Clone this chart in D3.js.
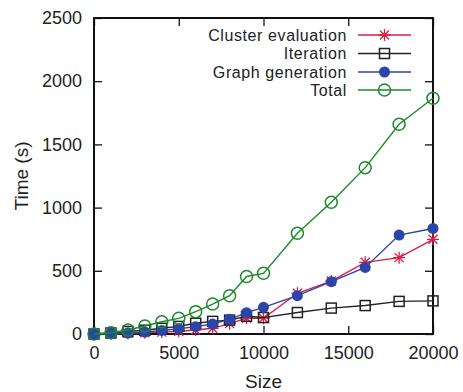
<!DOCTYPE html>
<html>
<head>
<meta charset="utf-8">
<script src="https://cdn.jsdelivr.net/npm/d3@7/dist/d3.min.js"></script>
<style>
  html, body { margin: 0; padding: 0; background: #fff; }
  svg { display: block; font-family: "Liberation Sans", Arial, Helvetica, sans-serif; }
</style>
</head>
<body>
<svg id="chart" width="463" height="392"></svg>
<script>
// Problem sizes and timings (seconds)
const sizes = [0, 1000, 2000, 3000, 4000, 5000, 6000, 7000, 8000, 9000, 10000, 12000, 14000, 16000, 18000, 20000];
const clusterEvaluation = [0, 2, 5, 10, 15, 22, 32, 45, 82, 125, 125, 322, 419, 567, 604, 749];
const iteration = [0, 8, 20, 30, 45, 60, 85, 100, 110, 140, 130, 170, 205, 225, 258, 262];
const graphGeneration = [0, 3, 8, 15, 28, 42, 58, 79, 116, 169, 211, 303, 414, 527, 783, 835];
const total = [0, 10, 32, 63, 97, 124, 177, 237, 303, 455, 480, 797, 1042, 1316, 1659, 1865];

const xTicks = [0, 5000, 10000, 15000, 20000];
const yTicks = [0, 500, 1000, 1500, 2000, 2500];

const seriesNames = ["Cluster evaluation", "Iteration", "Graph generation", "Total"];
const seriesValues = [clusterEvaluation, iteration, graphGeneration, total];
const seriesColors = ["#dc1e46", "#222222", "#2b45a8", "#1b8a2b"];
const seriesMarkers = ["star", "square", "dot", "circle"];

const svg = d3.select("#chart");
const plotLeft = 94, plotRight = 433, plotTop = 18, plotBottom = 334;

const x = d3.scaleLinear().domain([0, 20000]).range([plotLeft, plotRight]);
const y = d3.scaleLinear().domain([0, 2500]).range([plotBottom, plotTop]);

const tickLen = 8;
const fontSize = 18;

// Axes with inward ticks on all four sides
const axisG = svg.append("g");
axisG.append("g").attr("transform", `translate(0,${plotBottom})`)
  .call(d3.axisBottom(x).tickValues(xTicks).tickSizeInner(-tickLen).tickSizeOuter(0).tickPadding(12).tickFormat(d3.format("d")));
axisG.append("g").attr("transform", `translate(0,${plotTop})`)
  .call(d3.axisTop(x).tickValues(xTicks).tickSizeInner(-tickLen).tickSizeOuter(0).tickFormat(""));
axisG.append("g").attr("transform", `translate(${plotLeft},0)`)
  .call(d3.axisLeft(y).tickValues(yTicks).tickSizeInner(-tickLen).tickSizeOuter(0).tickPadding(12).tickFormat(d3.format("d")));
axisG.append("g").attr("transform", `translate(${plotRight},0)`)
  .call(d3.axisRight(y).tickValues(yTicks).tickSizeInner(-tickLen).tickSizeOuter(0).tickFormat(""));
axisG.selectAll(".domain").remove();
axisG.selectAll(".tick line").attr("stroke", "#111").attr("stroke-width", 1.3);
axisG.selectAll(".tick text").attr("font-size", fontSize).attr("fill", "#222")
  .attr("font-family", "'Liberation Sans', Arial, sans-serif");

// Plot frame
svg.append("rect").attr("x", plotLeft).attr("y", plotTop)
  .attr("width", plotRight - plotLeft).attr("height", plotBottom - plotTop)
  .attr("fill", "none").attr("stroke", "#111").attr("stroke-width", 2);

// Axis titles
svg.append("text").attr("x", (plotLeft + plotRight) / 2).attr("y", 388)
  .attr("text-anchor", "middle").attr("font-size", 19).attr("fill", "#222").text("Size");
svg.append("text").attr("transform", `translate(28,${(plotTop + plotBottom) / 2}) rotate(-90)`)
  .attr("text-anchor", "middle").attr("font-size", 19).attr("fill", "#222").text("Time (s)");

function drawMarker(g, kind, cx, cy, color) {
  if (kind === "star") {
    const r = 6;
    const p = `M${cx - r},${cy}H${cx + r}M${cx},${cy - r}V${cy + r}` +
      `M${cx - r * 0.75},${cy - r * 0.75}L${cx + r * 0.75},${cy + r * 0.75}` +
      `M${cx - r * 0.75},${cy + r * 0.75}L${cx + r * 0.75},${cy - r * 0.75}`;
    g.append("path").attr("d", p).attr("stroke", color).attr("stroke-width", 1.3).attr("fill", "none");
  } else if (kind === "square") {
    const s = 5;
    g.append("rect").attr("x", cx - s).attr("y", cy - s).attr("width", 2 * s).attr("height", 2 * s)
      .attr("fill", "none").attr("stroke", color).attr("stroke-width", 1.5);
  } else if (kind === "dot") {
    g.append("circle").attr("cx", cx).attr("cy", cy).attr("r", 5.5).attr("fill", color);
  } else {
    g.append("circle").attr("cx", cx).attr("cy", cy).attr("r", 6)
      .attr("fill", "none").attr("stroke", color).attr("stroke-width", 1.5);
  }
}

const line = d3.line().x(d => x(d[0])).y(d => y(d[1]));

seriesValues.forEach((vals, i) => {
  const pts = sizes.map((s, j) => [s, vals[j]]);
  const g = svg.append("g");
  g.append("path").datum(pts).attr("d", line)
    .attr("fill", "none").attr("stroke", seriesColors[i]).attr("stroke-width", 1.4);
  pts.forEach(p => drawMarker(g, seriesMarkers[i], x(p[0]), y(p[1]), seriesColors[i]));
});

// Legend
const legend = svg.append("g");
const legendRows = [35, 53.5, 72, 90];
seriesNames.forEach((name, i) => {
  const ly = legendRows[i];
  legend.append("text").attr("x", 347).attr("y", ly).attr("dy", "0.35em")
    .attr("text-anchor", "end").attr("font-size", 16).attr("letter-spacing", "0.6px")
    .attr("fill", "#222").text(name);
  legend.append("line").attr("x1", 358).attr("x2", 411).attr("y1", ly).attr("y2", ly)
    .attr("stroke", seriesColors[i]).attr("stroke-width", 1.4);
  drawMarker(legend, seriesMarkers[i], 384.5, ly, seriesColors[i]);
});
</script>
</body>
</html>
